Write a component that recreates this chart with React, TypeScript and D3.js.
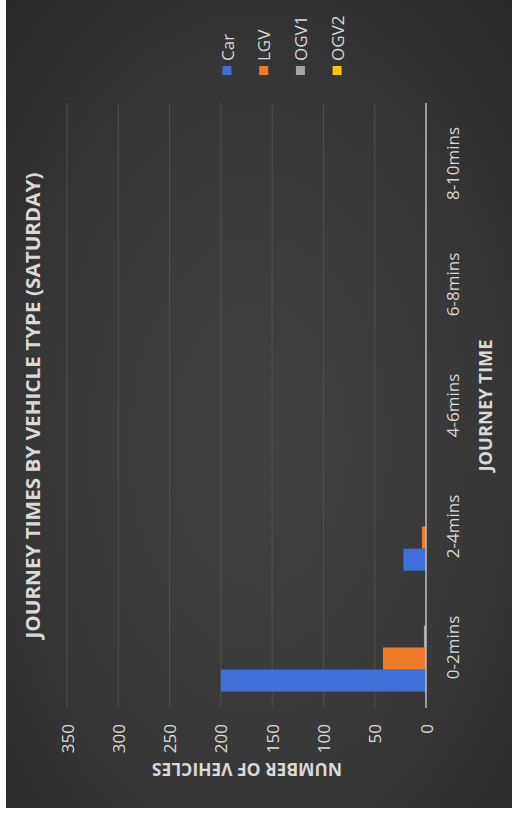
import React from "react";
import * as d3 from "d3";

const categories = ["0-2mins", "2-4mins", "4-6mins", "6-8mins", "8-10mins"];
const seriesNames = ["Car", "LGV", "OGV1", "OGV2"];
const carValues = [200, 22, 0, 0, 0];
const lgvValues = [42, 4, 0, 0, 0];
const ogv1Values = [2, 0, 0, 0, 0];
const ogv2Values = [0, 0, 0, 0, 0];
const valueTicks = [0, 50, 100, 150, 200, 250, 300, 350];
const seriesColors = ["#3f6fd8", "#f07b28", "#a5a5a5", "#f5c800"];

const titleText = "JOURNEY TIMES BY VEHICLE TYPE (SATURDAY)";
const valueAxisTitle = "NUMBER OF VEHICLES";
const categoryAxisTitle = "JOURNEY TIME";

const W = 515;
const H = 816;
const FONT = "'Open Sans', 'DejaVu Sans', sans-serif";
const TEXT = "#d9d9d9";

export default function App() {
  const seriesValues = [carValues, lgvValues, ogv1Values, ogv2Values];

  // value axis runs horizontally (right = 0), categories vertically (bottom = first)
  const x = d3.scaleLinear().domain([0, 350]).range([426, 67]);
  const y = d3
    .scaleBand<string>()
    .domain(categories)
    .range([708, 103])
    .paddingInner(0.27)
    .paddingOuter(0.135);
  const sub = d3
    .scaleBand<string>()
    .domain(seriesNames)
    .range([y.bandwidth(), 0]);

  const axisTop = 103;
  const axisBottom = 708;
  const catCenter = (axisTop + axisBottom) / 2;

  return (
    <svg
      width={W}
      height={H}
      style={{ position: "absolute", left: 0, top: 0, display: "block" }}
    >
      <defs>
        <radialGradient id="bg" cx="0.5" cy="0.55" r="0.75">
          <stop offset="0" stopColor="#414141" />
          <stop offset="0.6" stopColor="#373737" />
          <stop offset="1" stopColor="#272727" />
        </radialGradient>
      </defs>
      <rect x={0} y={0} width={W} height={H} fill="#ffffff" />
      <rect x={6} y={0} width={506} height={808} fill="url(#bg)" />

      {/* gridlines */}
      {valueTicks
        .filter((t) => t > 0)
        .map((t) => (
          <line
            key={"g" + t}
            x1={x(t)}
            x2={x(t)}
            y1={axisTop}
            y2={axisBottom}
            stroke="#505050"
            strokeWidth={1}
          />
        ))}

      {/* bars */}
      {categories.map((c, ci) => (
        <g key={c} transform={`translate(0,${y(c)})`}>
          {seriesNames.map((s, si) => {
            const v = seriesValues[si][ci];
            if (v <= 0) return null;
            return (
              <rect
                key={s}
                x={x(v)}
                y={sub(s)}
                width={x(0) - x(v)}
                height={sub.bandwidth()}
                fill={seriesColors[si]}
              />
            );
          })}
        </g>
      ))}

      {/* category axis line */}
      <line
        x1={x(0)}
        x2={x(0)}
        y1={axisTop}
        y2={axisBottom}
        stroke="#bfbfbf"
        strokeWidth={1.5}
      />

      {/* value tick labels */}
      {valueTicks.map((t) => (
        <text
          key={"t" + t}
          transform={`translate(${x(t)},724) rotate(-90)`}
          textAnchor="end"
          dominantBaseline="central"
          fill={TEXT}
          fontFamily={FONT}
          fontSize={17}
        >
          {t}
        </text>
      ))}

      {/* category labels */}
      {categories.map((c) => (
        <text
          key={"c" + c}
          transform={`translate(452,${(y(c) as number) + y.bandwidth() / 2}) rotate(-90)`}
          textAnchor="middle"
          dominantBaseline="central"
          fill={TEXT}
          fontFamily={FONT}
          fontSize={17}
        >
          {c}
        </text>
      ))}

      {/* axis titles */}
      <text
        transform={`translate(485,${catCenter}) rotate(-90)`}
        textAnchor="middle"
        dominantBaseline="central"
        fill={TEXT}
        fontFamily={FONT}
        fontWeight="bold"
        fontSize={17}
        textLength={132}
        lengthAdjust="spacingAndGlyphs"
      >
        {categoryAxisTitle}
      </text>
      <text
        transform={`translate(247,769) rotate(180)`}
        textAnchor="middle"
        dominantBaseline="central"
        fill={TEXT}
        fontFamily={FONT}
        fontWeight="bold"
        fontSize={17}
        textLength={190}
        lengthAdjust="spacingAndGlyphs"
      >
        {valueAxisTitle}
      </text>

      {/* chart title */}
      <text
        transform={`translate(33,${catCenter}) rotate(-90)`}
        textAnchor="middle"
        dominantBaseline="central"
        fill={TEXT}
        fontFamily={FONT}
        fontWeight="bold"
        fontSize={19}
        textLength={466}
        lengthAdjust="spacingAndGlyphs"
      >
        {titleText}
      </text>

      {/* legend */}
      {seriesNames.map((s, i) => {
        const lx = 227 + i * 36.7;
        return (
          <g key={"l" + s}>
            <rect x={lx - 4.5} y={66} width={9} height={9} fill={seriesColors[i]} />
            <text
              transform={`translate(${lx},61) rotate(-90)`}
              textAnchor="start"
              dominantBaseline="central"
              fill={TEXT}
              fontFamily={FONT}
              fontSize={17}
            >
              {s}
            </text>
          </g>
        );
      })}
    </svg>
  );
}
